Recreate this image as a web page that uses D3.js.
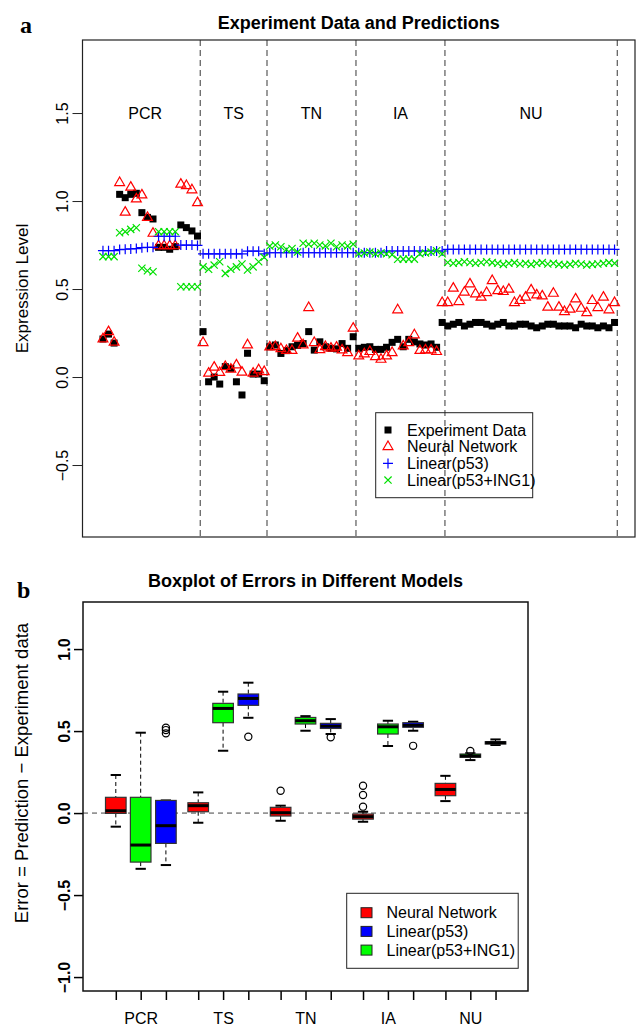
<!DOCTYPE html>
<meta charset="utf-8">
<script src="https://d3js.org/d3.v7.min.js"></script>
<style>body{margin:0;background:#fff}</style>
<div id="chart"></div>
<script>
// ---------- panel a data (93 samples, index 1..93) ----------
const expData = [
  0.216,0.244,0.193,1.038,1.019,1.038,1.044,0.934,0.907,0.898,0.737,0.737,0.726,0.741,0.864,0.849,0.830,0.801,
  0.258,-0.027,0.0,-0.04,0.059,0.049,-0.027,-0.102,0.135,0.017,0.017,-0.021,
  0.172,0.182,0.134,0.15,0.172,0.18,0.19,0.258,0.153,0.20,0.172,0.163,0.16,0.19,0.163,0.229,
  0.163,0.169,0.172,0.157,0.157,0.169,0.197,0.214,0.172,0.214,0.20,0.188,0.182,0.188,0.169,
  0.31,0.29,0.30,0.31,0.29,0.30,0.31,0.31,0.30,0.29,0.30,0.31,0.29,0.29,0.30,0.30,
  0.29,0.28,0.29,0.30,0.30,0.29,0.29,0.29,0.28,0.30,0.29,0.29,0.28,0.29,0.28,0.31
];
const nnPred = [
  0.216,0.257,0.197,1.104,0.936,1.078,1.011,1.034,0.906,0.816,0.745,0.745,0.745,0.745,1.095,1.087,1.063,0.99,
  0.195,0.021,0.055,0.025,0.059,0.044,0.068,0.027,0.182,0.021,0.04,0.03,
  0.17,0.172,0.16,0.15,0.15,0.22,0.182,0.394,0.195,0.155,0.172,0.163,0.169,0.153,0.138,0.277,
  0.119,0.131,0.144,0.115,0.10,0.119,0.138,0.381,0.176,0.195,0.239,0.15,0.153,0.153,0.144,
  0.422,0.422,0.504,0.428,0.481,0.528,0.472,0.453,0.479,0.547,0.49,0.485,0.498,0.422,0.434,0.453,
  0.494,0.466,0.46,0.396,0.475,0.396,0.371,0.385,0.443,0.39,0.365,0.434,0.394,0.453,0.381,0.422
];
const linP53 = [
  0.718,0.718,0.718,0.724,0.726,0.728,0.73,0.735,0.737,0.737,0.80,0.80,0.80,0.80,0.75,0.75,0.75,0.748,
  0.70,0.70,0.70,0.70,0.70,0.70,0.70,0.70,0.715,0.715,0.715,0.70,
  0.706,0.706,0.706,0.706,0.706,0.706,0.706,0.706,0.706,0.706,0.706,0.706,0.706,0.706,0.706,0.706,
  0.706,0.706,0.706,0.706,0.706,0.716,0.716,0.716,0.716,0.716,0.716,0.716,0.716,0.716,0.716,
  0.716,0.725,0.725,0.725,0.725,0.725,0.725,0.725,0.725,0.725,0.725,0.725,0.725,0.725,0.725,0.725,
  0.725,0.725,0.725,0.725,0.725,0.725,0.725,0.725,0.725,0.725,0.725,0.725,0.725,0.725,0.725,0.725
];
const linP53Ing1 = [
  0.684,0.684,0.684,0.82,0.826,0.839,0.848,0.618,0.604,0.598,0.826,0.826,0.826,0.826,0.513,0.513,0.513,0.513,
  0.626,0.612,0.636,0.655,0.589,0.612,0.626,0.642,0.608,0.626,0.655,0.68,
  0.744,0.75,0.74,0.725,0.73,0.71,0.76,0.755,0.76,0.75,0.745,0.76,0.74,0.75,0.745,0.755,
  0.70,0.705,0.71,0.70,0.705,0.70,0.695,0.669,0.67,0.67,0.67,0.70,0.705,0.71,0.718,
  0.70,0.651,0.646,0.650,0.655,0.651,0.646,0.651,0.655,0.650,0.646,0.640,0.646,0.650,0.642,0.646,
  0.640,0.646,0.650,0.642,0.646,0.640,0.636,0.640,0.646,0.642,0.636,0.640,0.642,0.646,0.650,0.646
];
const groups = ["PCR","TS","TN","IA","NU"];
const groupBreaks = [18.5, 30.5, 46.5, 62.5, 93.5];
const groupLabelPos = [8.6, 24.5, 38.5, 54.5, 78];
const topTicks = [-0.5, 0, 0.5, 1, 1.5];

// ---------- panel b data: [lower whisker, q1, median, q3, upper whisker] per group ----------
const nnStats = [
  [-0.083,-0.002,0.014,0.096,0.232],
  [-0.059,0.008,0.045,0.063,0.126],
  [-0.047,-0.018,0.002,0.035,0.045],
  [-0.053,-0.037,-0.022,-0.006,0.008],
  [0.073,0.106,0.144,0.181,0.227]
];
const nnOut = [[],[],[0.136],[0.039,0.11,0.167],[]];
const ing1Stats = [
  [-0.34,-0.299,-0.195,0.096,0.49],
  [0.38,0.551,0.638,0.669,0.74],
  [0.502,0.543,0.563,0.583,0.591],
  [0.409,0.482,0.526,0.543,0.563],
  [0.323,0.34,0.348,0.36,0.365]
];
const ing1Out = [[],[],[],[],[0.378]];
const p53Stats = [
  [-0.317,-0.185,-0.077,0.077,0.077],
  [0.581,0.657,0.699,0.726,0.795],
  [0.482,0.516,0.530,0.547,0.573],
  [0.502,0.523,0.535,0.551,0.557],
  [0.415,0.421,0.429,0.435,0.449]
];
const p53Out = [[0.486,0.506,0.52],[0.465],[0.462],[0.41],[]];
const bottomTicks = [-1, -0.5, 0, 0.5, 1];

const W = 636, H = 1026;
const svg = d3.select("#chart").append("svg")
  .attr("width", W).attr("height", H)
  .style("font-family", "'Liberation Sans', Arial, sans-serif");

// =============== panel a ===============
const pa = {left:82.5, right:635, top:40, bottom:537};
const x = d3.scaleLinear().domain([1-0.04*92, 93+0.04*92]).range([pa.left, pa.right]);
const y = d3.scaleLinear().domain([-0.909, 1.915]).range([pa.bottom, pa.top]);

svg.append("text").attr("x", 20).attr("y", 33)
  .style("font-family", "'Liberation Serif', 'Times New Roman', serif")
  .style("font-weight", "bold").style("font-size", "24px").text("a");
svg.append("text").attr("x", (pa.left+pa.right)/2).attr("y", 28.5)
  .attr("text-anchor", "middle").style("font-weight", "bold").style("font-size", "18px")
  .text("Experiment Data and Predictions");

svg.append("g").selectAll("line").data(groupBreaks).join("line")
  .attr("x1", d => x(d)).attr("x2", d => x(d))
  .attr("y1", pa.top).attr("y2", pa.bottom)
  .attr("stroke", "#666").attr("stroke-width", 1.3).attr("stroke-dasharray", "6,4");

svg.append("g").selectAll("text").data(groups).join("text")
  .attr("x", (d,i) => x(groupLabelPos[i])).attr("y", y(1.5)).attr("dy", "0.35em")
  .attr("text-anchor", "middle").style("font-size", "16px").text(d => d);

const sq = 7, pr = 5, xr = 3.6;

svg.append("g").selectAll("rect").data(expData).join("rect")
  .attr("x", (d,i) => x(i+1) - sq/2).attr("y", d => y(d) - sq/2)
  .attr("width", sq).attr("height", sq).attr("fill", "#000");

const tri = d3.symbol().type(d3.symbolTriangle).size(42);
svg.append("g").selectAll("path").data(nnPred).join("path")
  .attr("transform", (d,i) => `translate(${x(i+1)},${y(d)})`)
  .attr("d", tri).attr("fill", "none").attr("stroke", "#f00").attr("stroke-width", 1.2);

svg.append("g").selectAll("path").data(linP53).join("path")
  .attr("d", (d,i) => { const cx = x(i+1), cy = y(d);
    return `M${cx-pr},${cy}h${2*pr}M${cx},${cy-pr}v${2*pr}`; })
  .attr("stroke", "#00f").attr("stroke-width", 1.2).attr("fill", "none");

svg.append("g").selectAll("path").data(linP53Ing1).join("path")
  .attr("d", (d,i) => { const cx = x(i+1), cy = y(d);
    return `M${cx-xr},${cy-xr}l${2*xr},${2*xr}M${cx-xr},${cy+xr}l${2*xr},${-2*xr}`; })
  .attr("stroke", "#00e000").attr("stroke-width", 1.2).attr("fill", "none");

const axA = svg.append("g").attr("transform", `translate(${pa.left},0)`)
  .call(d3.axisLeft(y).tickValues(topTicks).tickSize(10).tickFormat(d3.format(".1f")))
  .attr("font-size", null).attr("font-family", null);
axA.select(".domain").remove();
axA.selectAll(".tick line").attr("stroke", "#222");
axA.selectAll("text").attr("transform", "rotate(-90)").attr("x", 0).attr("y", -14.5)
  .attr("dy", 0).attr("text-anchor", "middle").style("font-size", "16px");

svg.append("text").attr("transform", `translate(28,${(pa.top+pa.bottom)/2}) rotate(-90)`)
  .attr("text-anchor", "middle").style("font-size", "17px").text("Expression Level");

svg.append("rect").attr("x", pa.left).attr("y", pa.top)
  .attr("width", pa.right-pa.left).attr("height", pa.bottom-pa.top)
  .attr("fill", "none").attr("stroke", "#222").attr("stroke-width", 1.2);

// legend a
const legA = svg.append("g");
legA.append("rect").attr("x", 375.7).attr("y", 412.7).attr("width", 157).attr("height", 85)
  .attr("fill", "none").attr("stroke", "#222");
const legAItems = ["Experiment Data", "Neural Network", "Linear(p53)", "Linear(p53+ING1)"];
legAItems.forEach((t,i) => {
  const cy = 430 + i*16.7, cx = 388;
  if (i === 0) legA.append("rect").attr("x", cx-sq/2).attr("y", cy-sq/2).attr("width", sq).attr("height", sq);
  if (i === 1) legA.append("path").attr("transform", `translate(${cx},${cy})`).attr("d", tri)
    .attr("fill", "none").attr("stroke", "#f00").attr("stroke-width", 1.2);
  if (i === 2) legA.append("path").attr("d", `M${cx-pr},${cy}h${2*pr}M${cx},${cy-pr}v${2*pr}`)
    .attr("stroke", "#00f").attr("stroke-width", 1.2);
  if (i === 3) legA.append("path").attr("d", `M${cx-xr},${cy-xr}l${2*xr},${2*xr}M${cx-xr},${cy+xr}l${2*xr},${-2*xr}`)
    .attr("stroke", "#00e000").attr("stroke-width", 1.2);
  legA.append("text").attr("x", 407).attr("y", cy).attr("dy", "0.35em")
    .style("font-size", "16px").text(t);
});

// =============== panel b ===============
const pb = {left:83, right:528, top:602, bottom:991};
const xb = d3.scaleLinear().domain([-0.7, 4.7]).range([pb.left, pb.right]);
const yb = d3.scaleLinear().domain([-1.085, 1.287]).range([pb.bottom, pb.top]);

svg.append("text").attr("x", 17).attr("y", 598)
  .style("font-family", "'Liberation Serif', 'Times New Roman', serif")
  .style("font-weight", "bold").style("font-size", "24px").text("b");
svg.append("text").attr("x", (pb.left+pb.right)/2).attr("y", 587)
  .attr("text-anchor", "middle").style("font-weight", "bold").style("font-size", "18px")
  .text("Boxplot of Errors in Different Models");

svg.append("line").attr("x1", pb.left).attr("x2", pb.right)
  .attr("y1", yb(0)).attr("y2", yb(0))
  .attr("stroke", "#444").attr("stroke-dasharray", "5,4");

const models = [
  {stats: nnStats, out: nnOut, color: "#f00", off: -0.302},
  {stats: ing1Stats, out: ing1Out, color: "#0f0", off: 0},
  {stats: p53Stats, out: p53Out, color: "#00f", off: 0.306}
];
const bw = 0.125;
const boxes = [];
models.forEach(m => m.stats.forEach((s,g) => boxes.push({s, out: m.out[g], color: m.color, pos: g + m.off})));

const gb = svg.append("g").selectAll("g").data(boxes).join("g");
gb.append("line").attr("x1", d => xb(d.pos)).attr("x2", d => xb(d.pos))
  .attr("y1", d => yb(d.s[4])).attr("y2", d => yb(d.s[3]))
  .attr("stroke", "#000").attr("stroke-dasharray", "4,3");
gb.append("line").attr("x1", d => xb(d.pos)).attr("x2", d => xb(d.pos))
  .attr("y1", d => yb(d.s[1])).attr("y2", d => yb(d.s[0]))
  .attr("stroke", "#000").attr("stroke-dasharray", "4,3");
[0,4].forEach(k => gb.append("line")
  .attr("x1", d => xb(d.pos - bw/2)).attr("x2", d => xb(d.pos + bw/2))
  .attr("y1", d => yb(d.s[k])).attr("y2", d => yb(d.s[k]))
  .attr("stroke", "#000").attr("stroke-width", 2));
gb.append("rect").attr("x", d => xb(d.pos - bw)).attr("width", d => xb(d.pos + bw) - xb(d.pos - bw))
  .attr("y", d => yb(d.s[3])).attr("height", d => yb(d.s[1]) - yb(d.s[3]))
  .attr("fill", d => d.color).attr("stroke", "#333").attr("stroke-width", 1.2);
gb.append("line").attr("x1", d => xb(d.pos - bw)).attr("x2", d => xb(d.pos + bw))
  .attr("y1", d => yb(d.s[2])).attr("y2", d => yb(d.s[2]))
  .attr("stroke", "#000").attr("stroke-width", 3);
gb.selectAll("circle").data(d => d.out.map(v => ({v, pos: d.pos}))).join("circle")
  .attr("cx", d => xb(d.pos)).attr("cy", d => yb(d.v)).attr("r", 3.6)
  .attr("fill", "none").attr("stroke", "#000").attr("stroke-width", 1.2);

const axBY = svg.append("g").attr("transform", `translate(${pb.left},0)`)
  .call(d3.axisLeft(yb).tickValues(bottomTicks).tickSize(9).tickFormat(d3.format(".1f")))
  .attr("font-size", null).attr("font-family", null);
axBY.select(".domain").remove();
axBY.selectAll(".tick line").attr("stroke-width", 1.5);
axBY.selectAll("text").attr("transform", "rotate(-90)").attr("x", 0).attr("y", -13)
  .attr("dy", 0).attr("text-anchor", "middle").style("font-size", "16px").style("font-weight", "bold");

const tickPos = [];
groups.forEach((g,i) => models.forEach(m => tickPos.push(i + m.off)));
const axBX = svg.append("g").attr("transform", `translate(0,${pb.bottom})`)
  .call(d3.axisBottom(xb).tickValues(tickPos).tickSize(9)
    .tickFormat(d => { const i = Math.round(d); return Math.abs(d - i) < 1e-6 ? groups[i] : ""; }))
  .attr("font-size", null).attr("font-family", null);
axBX.select(".domain").remove();
axBX.selectAll(".tick line").attr("stroke-width", 1.5);
axBX.selectAll("text").attr("y", 33).attr("dy", 0).style("font-size", "16px");

svg.append("text").attr("transform", `translate(28,773) rotate(-90)`)
  .attr("text-anchor", "middle").style("font-size", "18.5px")
  .text("Error = Prediction \u2212 Experiment data");

svg.append("rect").attr("x", pb.left).attr("y", pb.top)
  .attr("width", pb.right-pb.left).attr("height", pb.bottom-pb.top)
  .attr("fill", "none").attr("stroke", "#111").attr("stroke-width", 1.5);

// legend b
const legB = svg.append("g");
legB.append("rect").attr("x", 346.7).attr("y", 893.3).attr("width", 171.5).attr("height", 75)
  .attr("fill", "none").attr("stroke", "#222");
const legBItems = [["Neural Network","#f00"],["Linear(p53)","#00f"],["Linear(p53+ING1)","#0f0"]];
legBItems.forEach((t,i) => {
  const cy = 912.7 + i*18.7;
  legB.append("rect").attr("x", 361).attr("y", cy-5).attr("width", 11).attr("height", 10)
    .attr("fill", t[1]).attr("stroke", "#222");
  legB.append("text").attr("x", 386.5).attr("y", cy).attr("dy", "0.35em")
    .style("font-size", "16px").text(t[0]);
});
</script>
